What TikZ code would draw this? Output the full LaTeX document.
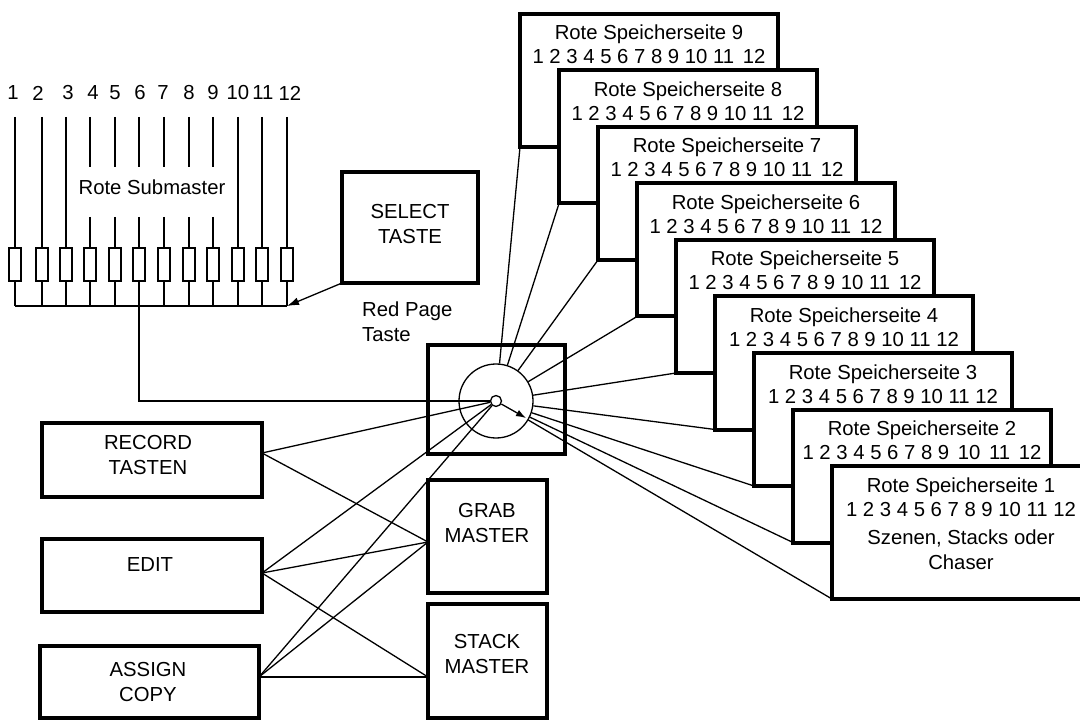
\documentclass[tikz,border=0pt]{standalone}
\usepackage{fontspec}
\setmainfont{Liberation Sans}
\usetikzlibrary{arrows.meta}
\newcommand\mkpage[4]{%
  \node[thickbox, anchor=north west, minimum width=258pt, minimum height=133pt] (p#1) at (#2,#3) {};
  \node[txt, anchor=base] (p#1t) at ([yshift=-26pt]p#1.north) {Rote Speicherseite #1};
  \node[txt, anchor=base] (p#1n) at ([yshift=-50pt]p#1.north) {#4};
}
\newcommand\xs{\hskip3pt}
\begin{document}
\begin{tikzpicture}[x=1pt,y=-1pt,
  every node/.style={font=\fontsize{20.3}{25}\selectfont},
  thickbox/.style={draw, line width=4pt, inner sep=0pt, outer sep=0pt, fill=white},
  wire/.style={line width=1.3pt},
  slider/.style={draw, line width=1.4pt, minimum width=12pt, minimum height=33pt, inner sep=0pt, outer sep=0pt},
  txt/.style={align=center, inner sep=0pt},
]
\clip (0,0) rectangle (1080,722);
% submaster faders
\foreach \n/\lx/\x in {1/13/15, 2/38/42, 3/68/66, 4/93/90, 5/115/115, 6/140/139, 7/163/164, 8/189/189, 9/213/213, 10/238/238, 11/263/262, 12/290/287} {
  \node[txt] (num\n) at (\lx,93) {\n};
  \node[slider] (s\n) at (\x,264.5) {};
  \coordinate (top\n) at (\x,117);
  \coordinate (brkA\n) at (\x,167);
  \coordinate (brkB\n) at (\x,217);
  \coordinate (bus\n) at (\x,306);
  \draw[wire] (s\n.south) -- (bus\n);
}
\foreach \n in {1,2,3,10,11,12} { \draw[wire] (top\n) -- (s\n.north); }
\foreach \n in {4,5,6,7,8,9} { \draw[wire] (top\n) -- (brkA\n); \draw[wire] (brkB\n) -- (s\n.north); }
\draw[wire] (bus1) -- (bus12);
\node[txt] (submaster) at (152,187) {Rote Submaster};

% select taste
\node[thickbox, minimum width=136pt, minimum height=111pt] (select) at (410,227.5) {};
\node[txt] (tSelect) at (410,224.5) {SELECT\\TASTE};
\draw[wire, -{Latex[length=12pt,width=8pt]}] (select.south west) -- (bus12);
\node[txt, align=left, anchor=west] (redpage) at (362,322) {Red Page\\Taste};

% left boxes
\node[thickbox, minimum width=220pt, minimum height=74pt] (rec) at (152,460) {};
\node[txt] (tRec) at (148,455.5) {RECORD\\TASTEN};
\node[thickbox, minimum width=220pt, minimum height=73pt] (edit) at (152,575.5) {};
\node[txt] (tEdit) at (150,565) {EDIT};
\node[thickbox, minimum width=219pt, minimum height=72pt] (assign) at (149.5,682) {};
\node[txt] (tAssign) at (148,682.5) {ASSIGN\\COPY};
\node[thickbox, minimum width=119pt, minimum height=113pt] (grab) at (487.5,536.5) {};
\node[txt] (tGrab) at (487,523.5) {GRAB\\MASTER};
\node[thickbox, minimum width=119pt, minimum height=114pt] (stack) at (487.5,661) {};
\node[txt] (tStack) at (487,654.5) {STACK\\MASTER};

% dial
\node[thickbox, minimum width=137pt, minimum height=109pt] (dial) at (496.5,399.5) {};
\node[draw, circle, wire, minimum size=74pt, inner sep=0pt] (wheel) at (496,401) {};

% pages
\mkpage{9}{520}{14}{1 2 3 4 5 6 7 8 9 10 11\xs\ 12}
\mkpage{8}{559}{70.5}{1 2 3 4 5 6 7 8 9 10 11\xs\ 12}
\mkpage{7}{598}{127}{1 2 3 4 5 6 7 8 9 10 11\xs\ 12}
\mkpage{6}{637}{183.5}{1 2 3 4 5 6 7 8 9 10 11\xs\ 12}
\mkpage{5}{676}{240}{1 2 3 4 5 6 7 8 9 10 11\xs\ 12}
\mkpage{4}{715}{296.5}{1 2 3 4 5 6 7 8 9 10 11 12}
\mkpage{3}{754}{353}{1 2 3 4 5 6 7 8 9 10 11 12}
\mkpage{2}{793}{409.5}{1 2 3 4 5 6 7 8 9\xs\ 10\xs\ 11\xs\ 12}
\mkpage{1}{832}{466}{1 2 3 4 5 6 7 8 9 10 11 12}
\node[txt, anchor=base] (p1a) at ([yshift=-78pt]p1.north) {Szenen, Stacks oder};
\node[txt, anchor=base] (p1b) at ([yshift=-103pt]p1.north) {Chaser};

\foreach \k in {9,8,7,6,5,4,3,2,1} { \draw[wire] (wheel) -- (p\k.south west); }

% hub and connections
\node[draw, circle, wire, fill=white, minimum size=11pt, inner sep=0pt] (hub) at (496,401) {};
\coordinate (recO) at ([yshift=7pt]rec.east);
\coordinate (editO) at ([yshift=2.5pt]edit.east);
\coordinate (assignO) at ([yshift=5pt]assign.east);
\coordinate (grabI) at ([yshift=-5.5pt]grab.west);
\coordinate (stackI) at ([yshift=-16pt]stack.west);
\draw[wire] (bus6) |- (hub);
\draw[wire] (recO) -- (hub);
\draw[wire] (recO) -- (grabI);
\draw[wire] (editO) -- (hub);
\draw[wire] (editO) -- (grabI);
\draw[wire] (editO) -- (stackI);
\draw[wire] (assignO) -- (hub);
\draw[wire] (assignO) -- (grabI);
\draw[wire] (assignO) -- (stackI);
\coordinate (ptr) at (526,418);
\draw[wire, -{Latex[length=10pt,width=7pt]}] (hub) -- (ptr);
\end{tikzpicture}
\end{document}
